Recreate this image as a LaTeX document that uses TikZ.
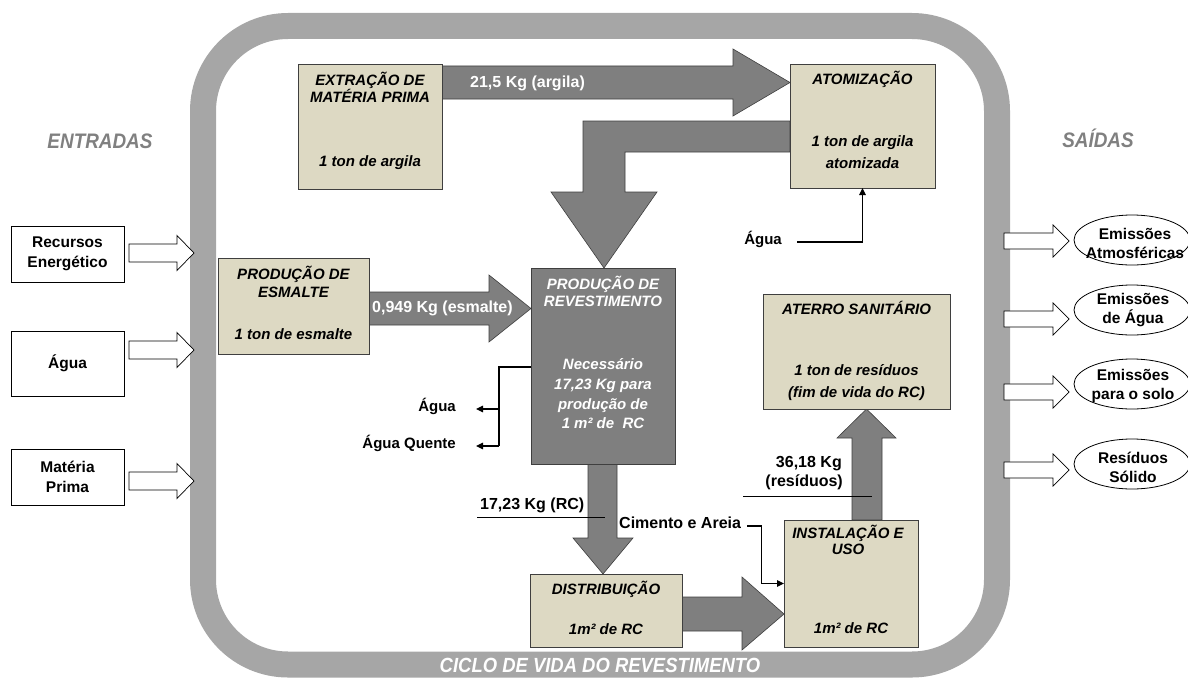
\documentclass[tikz,border=0pt]{standalone}
\usepackage{fontspec}
\setmainfont{Liberation Sans}
\newfontfamily\condfont{Liberation Sans}[FakeStretch=0.9]
\usetikzlibrary{arrows.meta,shapes.geometric,calc}
\definecolor{tanfill}{HTML}{DDD9C3}
\definecolor{bandgray}{HTML}{A6A6A6}
\definecolor{flowgray}{HTML}{7F7F7F}
\definecolor{edgegray}{HTML}{3F3F3F}
\definecolor{headgray}{HTML}{808080}
\newcommand\fsz[1]{\fontsize{#1}{#1}\selectfont}
\newcommand\fszl[2]{\fontsize{#1}{#2}\selectfont}

\begin{document}
\begin{tikzpicture}[x=1pt,y=-1pt,
  tanbox/.style={draw=edgegray, line width=0.9pt, fill=tanfill, inner sep=0pt, outer sep=0pt},
  darkbox/.style={tanbox, fill=flowgray},
  inbox/.style={draw=black, line width=0.8pt, fill=white, inner sep=0pt, outer sep=0pt,
                align=center, font=\fszl{15.5}{20}\bfseries, minimum width=113pt},
  outell/.style={ellipse, draw=black, line width=0.8pt, fill=white,
                 minimum width=116pt, minimum height=50pt, inner sep=0pt},
  elltext/.style={align=center, font=\fszl{15.5}{19}\bfseries, inner sep=0pt},
  ttl/.style={font=\fsz{15}\bfseries\itshape, anchor=mid, inner sep=0pt},
  ttlw/.style={ttl, text=white},
  lbl/.style={font=\fsz{16}\bfseries, inner sep=0pt},
  lblw/.style={lbl, text=white},
  side/.style={font=\fsz{15}\bfseries, inner sep=0pt},
  headtxt/.style={font=\condfont\fsz{21}\bfseries\itshape, text=headgray, anchor=base, inner sep=0pt},
  blk/.style={fill=flowgray, draw=edgegray, line width=0.6pt, line join=miter},
  hollow/.style={fill=white, draw=black, line width=0.7pt},
  wire/.style={draw=black, line width=1.1pt},
  thinwire/.style={draw=black, line width=0.9pt},
  tip/.style={-{Triangle[length=7pt,width=6.5pt]}}
]
\useasboundingbox (0,0) rectangle (1188,677);

% life-cycle band
\draw[bandgray, line width=26pt, rounded corners=85pt] (203,26) rectangle (997,664.5);
\node[font=\condfont\fsz{20.5}\bfseries\itshape, text=white, anchor=base, inner sep=0pt] (cycle) at (600,672.5) {CICLO DE VIDA DO REVESTIMENTO};

% side headings
\node[headtxt] (inlab) at (100,148) {ENTRADAS};
\node[headtxt] (outlab) at (1098,147) {SAÍDAS};

% inputs
\node[inbox, minimum height=56pt] (rec) at (67.5,254) {Recursos\\Energético};
\node[inbox, minimum height=65pt] (agin) at (67.5,363.5) {Água};
\node[inbox, minimum height=56pt] (mat) at (67.5,477) {Matéria\\Prima};
\foreach \yc in {253,350,481}
  \draw[hollow] (129,\yc-9) -- (177,\yc-9) -- (177,\yc-17.5) -- (194,\yc)
     -- (177,\yc+17.5) -- (177,\yc+9) -- (129,\yc+9) -- cycle;

% outputs
\foreach \yc in {241,319,392,470}
  \draw[hollow] (1004,\yc-8) -- (1053,\yc-8) -- (1053,\yc-16) -- (1069,\yc)
     -- (1053,\yc+16) -- (1053,\yc+8) -- (1004,\yc+8) -- cycle;
\node[outell] (out1) at (1132,240) {};
\node[outell] (out2) at (1132,310) {};
\node[outell] (out3) at (1132,384) {};
\node[outell] (out4) at (1132,464) {};
\node[elltext] (ot1) at (1135,243) {Emissões\\Atmosféricas};
\node[elltext] (ot2) at (1133,310) {Emissões\\de Água};
\node[elltext] (ot3) at (1133,386) {Emissões\\para o solo};
\node[elltext] (ot4) at (1133,467) {Resíduos\\Sólido};

% flow arrows
\draw[blk] (442,66) -- (733,66) -- (733,49) -- (790,82.5) -- (733,116) -- (733,99) -- (442,99) -- cycle;
\draw[blk] (790,121) -- (583,121) -- (583,192) -- (551,192) -- (604,268) -- (657,192)
   -- (625,192) -- (625,152) -- (790,152) -- cycle;
\draw[blk] (369,292) -- (489,292) -- (489,275) -- (531,308.5) -- (489,342) -- (489,325) -- (369,325) -- cycle;
\draw[blk] (588,464) -- (588,538) -- (573,538) -- (603,574) -- (633,538) -- (617,538) -- (617,464) -- cycle;
\draw[blk] (682,597) -- (742,597) -- (742,577) -- (784,614) -- (742,650) -- (742,631) -- (682,631) -- cycle;
\draw[blk] (852,520) -- (852,438) -- (837,438) -- (866.5,409) -- (896,438) -- (882,438) -- (882,520) -- cycle;

% process boxes
\node[tanbox, minimum width=144pt, minimum height=125pt] (ext) at (370,126.5) {};
\node[tanbox, minimum width=145pt, minimum height=124pt] (atom) at (862.5,126) {};
\node[tanbox, minimum width=151pt, minimum height=96pt] (esm) at (293.5,306) {};
\node[darkbox, minimum width=144pt, minimum height=196pt] (prod) at (603,366) {};
\node[tanbox, minimum width=187pt, minimum height=115pt] (aterro) at (856.5,351.5) {};
\node[tanbox, minimum width=152pt, minimum height=73pt] (dist) at (606,610.5) {};
\node[tanbox, minimum width=134pt, minimum height=127pt] (inst) at (851,583.5) {};

% box texts
\node[ttl] (ext1) at (370,83) {EXTRAÇÃO DE};
\node[ttl] (ext2) at (370,100) {MATÉRIA PRIMA};
\node[ttl] (ext3) at (370,164) {1 ton de argila};
\node[ttl] (atom1) at (862.5,82) {ATOMIZAÇÃO};
\node[ttl] (atom2) at (862.5,144) {1 ton de argila};
\node[ttl] (atom3) at (862.5,166) {atomizada};
\node[ttl] (esm1) at (293.5,277) {PRODUÇÃO DE};
\node[ttl] (esm2) at (293.5,295) {ESMALTE};
\node[ttl] (esm3) at (293.5,337) {1 ton de esmalte};
\node[ttlw] (prod1) at (603,287) {PRODUÇÃO DE};
\node[ttlw] (prod2) at (603,304) {REVESTIMENTO};
\node[ttlw] (prod3) at (603,367) {Necessário};
\node[ttlw] (prod4) at (603,387) {17,23 Kg para};
\node[ttlw] (prod5) at (603,407) {produção de};
\node[ttlw] (prod6) at (603,426) {1 m² de~ RC};
\node[ttl] (ater1) at (856.5,312) {ATERRO SANITÁRIO};
\node[ttl] (ater2) at (856.5,373) {1 ton de resíduos};
\node[ttl] (ater3) at (856.5,395) {(fim de vida do RC)};
\node[ttl] (dist1) at (606,592) {DISTRIBUIÇÃO};
\node[ttl] (dist2) at (606,632) {1m² de RC};
\node[ttl] (inst1) at (848,536) {INSTALAÇÃO E};
\node[ttl] (inst2) at (848,552) {USO};
\node[ttl] (inst3) at (851,631) {1m² de RC};

% flow labels
\node[lblw, anchor=mid west] (q1) at (470,85) {21,5 Kg (argila)};
\node[lblw, anchor=mid west] (q2) at (372,310) {0,949 Kg (esmalte)};
\node[lbl, anchor=mid west] (q3) at (480,507) {17,23 Kg (RC)};
\node[lbl, anchor=mid east] (q4a) at (842,465) {36,18 Kg};
\node[lbl, anchor=mid east] (q4b) at (843,484) {(resíduos)};
\draw[thinwire] (477,517) -- (605,517);
\draw[thinwire] (743,496) -- (872,496);

% auxiliary inputs and outputs
\node[side, anchor=mid east] (agT) at (782,242) {Água};
\draw[wire, tip] ([xshift=15pt]agT.mid east) -| (atom.south);

\node[side, anchor=mid east] (agL) at (456,409) {Água};
\node[side, anchor=mid east] (agQ) at (456,446) {Água Quente};
\coordinate (pj) at (499,367);
\draw[wire] (prod.west |- pj) -- (pj) -- (pj |- agQ.mid east);
\draw[wire, tip] (pj |- agL.mid east) -- ([xshift=20pt]agL.mid east);
\draw[wire, tip] (pj |- agQ.mid east) -- ([xshift=20pt]agQ.mid east);

\node[lbl, anchor=mid west] (cim) at (619,526) {Cimento e Areia};
\draw[wire, tip] ([xshift=6pt]cim.mid east) -- ++(14,0) |- (inst.west);
\end{tikzpicture}
\end{document}
